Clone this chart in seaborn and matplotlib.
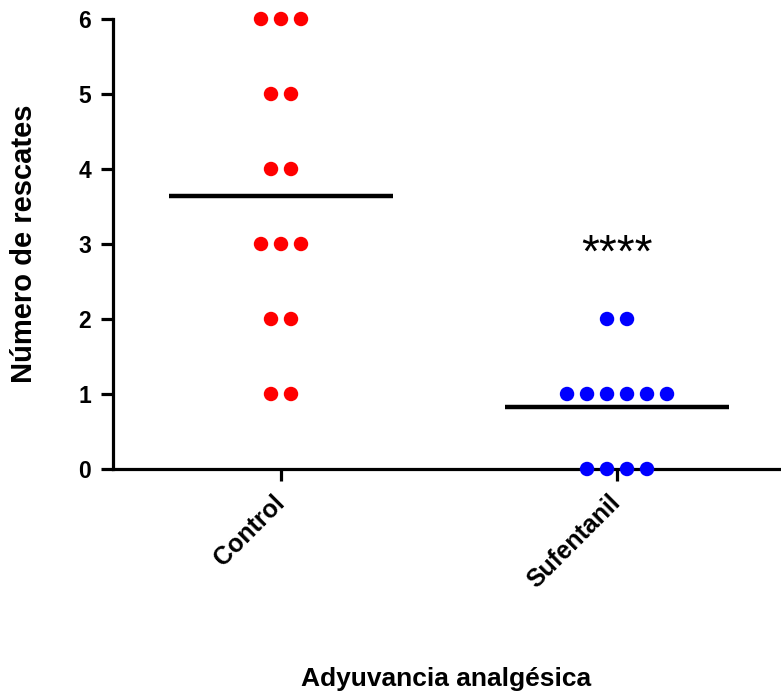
import numpy as np
import pandas as pd
import matplotlib.pyplot as plt
import seaborn as sns

# Datos
categories = ["Control", "Sufentanil"]
control_values = [6, 6, 6, 5, 5, 4, 4, 3, 3, 3, 2, 2, 1, 1]
sufentanil_values = [2, 2, 1, 1, 1, 1, 1, 1, 0, 0, 0, 0]
y_ticks = [0, 1, 2, 3, 4, 5, 6]
significance = "****"
significance_y = 3
palette = {"Control": "#ff0000", "Sufentanil": "#0000ff"}

sns.set_style("ticks")
plt.rcParams["font.family"] = ["Liberation Sans", "DejaVu Sans"]
plt.rcParams["font.weight"] = "bold"
for key in ["text.color", "axes.labelcolor", "xtick.color", "ytick.color", "axes.edgecolor"]:
    plt.rcParams[key] = "black"

df = pd.DataFrame({
    "grupo": ["Control"] * len(control_values) + ["Sufentanil"] * len(sufentanil_values),
    "rescates": control_values + sufentanil_values,
})
df["code"] = df["grupo"].map({c: i for i, c in enumerate(categories)})

# dispersión centrada tipo Prism (puntos iguales en fila)
step = 0.0595
rank = df.groupby(["grupo", "rescates"]).cumcount()
n = df.groupby(["grupo", "rescates"])["rescates"].transform("size")
df["x"] = df["code"] + (rank - (n - 1) / 2) * step

fig = plt.figure(figsize=(7.81, 6.98), dpi=100)
ax = fig.add_axes([113 / 781, 229 / 698, 667 / 781, 450 / 698])

sns.scatterplot(data=df, x="x", y="rescates", hue="grupo", palette=palette,
                s=108, edgecolor="none", legend=False, clip_on=False, zorder=3, ax=ax)

means = df.groupby("code")["rescates"].mean()
for code, m in means.items():
    ax.hlines(m, code - 0.332, code + 0.332, color="black", lw=3.2, zorder=2)

ax.annotate(significance, (1, significance_y), xytext=(0, -8), textcoords="offset points",
            ha="center", va="center", fontsize=33, fontweight="normal")

ax.set_xlim(-0.5, 1.485)
ax.set_ylim(0, 6)
ax.set_yticks(y_ticks)
ax.set_xticks(range(len(categories)))
ax.set_xticklabels(categories, rotation=45, ha="right", va="center",
                   rotation_mode="anchor", fontsize=18, fontweight="bold")
ax.tick_params(axis="y", labelsize=16.5, width=2.3, length=8.6, pad=7)
ax.tick_params(axis="x", width=2.3, length=8.6, pad=13)
for lab in ax.get_yticklabels():
    lab.set_fontweight("bold")

for side in ["top", "right"]:
    ax.spines[side].set_visible(False)
for side in ["left", "bottom"]:
    ax.spines[side].set_linewidth(2.3)

ax.set_ylabel("Número de rescates", fontsize=21, fontweight="bold")
ax.set_xlabel("Adyuvancia analgésica", fontsize=19, fontweight="bold")
ax.yaxis.set_label_coords(-0.112, 0.5)
ax.xaxis.set_label_coords(0.5, -0.44)

fig.savefig("out.png", dpi=100)
plt.close()
